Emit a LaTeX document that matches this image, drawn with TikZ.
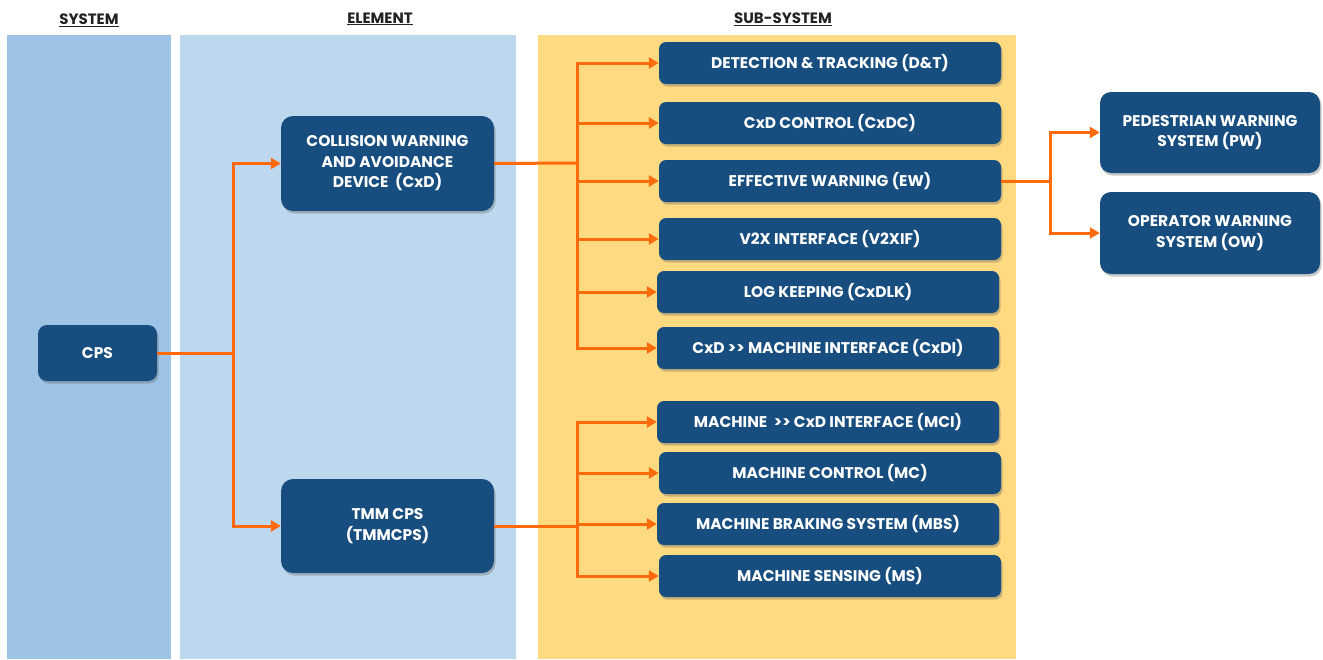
\documentclass[tikz,border=0pt]{standalone}
\usepackage{fontspec}
\setmainfont{Poppins}
\usetikzlibrary{arrows.meta,shadows,positioning}
\definecolor{colsys}{HTML}{9DC3E6}
\definecolor{colelem}{HTML}{BDD7EE}
\definecolor{colsub}{HTML}{FFDA80}
\definecolor{boxblue}{HTML}{174E7F}
\definecolor{arrorange}{HTML}{FF6A0D}
\definecolor{headtxt}{HTML}{222222}
\tikzset{
  box/.style={fill=boxblue, rounded corners=9pt, text=white, font=\fontsize{15.5}{20.5}\selectfont\bfseries, align=center, inner sep=0pt,
    drop shadow={shadow xshift=1.5pt, shadow yshift=-2.5pt, opacity=0.35, fill=black!60}},
  sub/.style={box, minimum width=342pt, minimum height=42pt, rounded corners=7pt},
  conn/.style={draw=arrorange, line width=3pt},
  arr/.style={conn, -{Triangle[length=10pt,width=11pt]}},
  head/.style={font=\fontsize{15}{17}\selectfont\bfseries, text=headtxt}
}
\newcommand{\myul}[1]{\underline{#1}}
\newcommand{\dblgt}{>{}>}
\begin{document}
\begin{tikzpicture}[x=1pt,y=-1pt]
\useasboundingbox (0,0) rectangle (1323,659);
\fill[white] (0,0) rectangle (1323,659);
% column backgrounds
\fill[colsys] (7,35) rectangle (171,659);
\fill[colelem] (180,35) rectangle (516,659);
\fill[colsub] (538,35) rectangle (1016,659);
% headings
\node[head] (hsys) at (89,20) {\myul{SYSTEM}};
\node[head] (helem) at (380,19) {\myul{ELEMENT}};
\node[head] (hsub) at (783,19) {\myul{SUB-SYSTEM}};
% nodes
\node[box, minimum width=119pt, minimum height=56pt] (cps) at (97.5,353) {CPS};
\node[box, minimum width=213pt, minimum height=95pt, rounded corners=12pt] (cxd) at (387.5,163.5) {COLLISION WARNING\\AND AVOIDANCE\\DEVICE~ (CxD)};
\node[box, minimum width=213pt, minimum height=94pt, rounded corners=12pt] (tmm) at (387.5,526) {TMM CPS\\(TMMCPS)};
\node[sub] (dt) at (830,63) {DETECTION \& TRACKING (D\&T)};
\node[sub] (cxdc) at (830,123) {CxD CONTROL (CxDC)};
\node[sub] (ew) at (830,181) {EFFECTIVE WARNING (EW)};
\node[sub] (v2x) at (830,239) {V2X INTERFACE (V2XIF)};
\node[sub] (log) at (828,292) {LOG KEEPING (CxDLK)};
\node[sub] (cxdi) at (828,348) {CxD \dblgt{} MACHINE INTERFACE (CxDI)};
\node[sub] (mci) at (828,422) {MACHINE~ \dblgt{} CxD INTERFACE (MCI)};
\node[sub] (mc) at (830,473) {MACHINE CONTROL (MC)};
\node[sub] (mbs) at (828,524) {MACHINE BRAKING SYSTEM (MBS)};
\node[sub] (ms) at (830,576) {MACHINE SENSING (MS)};
\node[box, minimum width=220pt, minimum height=81pt, rounded corners=11pt] (pw) at (1210,132.5) {PEDESTRIAN WARNING\\SYSTEM (PW)};
\node[box, minimum width=220pt, minimum height=82pt, rounded corners=11pt] (ow) at (1210,233) {OPERATOR WARNING\\SYSTEM (OW)};
% junction coordinates
\coordinate (j1) at (233,353);
\coordinate (j2) at (577,163);
\coordinate (j3) at (577,526);
\coordinate (j4) at (1050,181);
% connectors
\draw[conn] (cps.east) -- (j1);
\draw[arr] (j1) |- (cxd.west);
\draw[arr] (j1) |- (tmm.west);
\draw[conn] (cxd.east) -- (j2);
\foreach \n in {dt,cxdc,ew,v2x,log,cxdi} {\draw[arr] (j2) |- (\n.west);}
\draw[conn] (tmm.east) -- (j3);
\foreach \n in {mci,mc,mbs,ms} {\draw[arr] (j3) |- (\n.west);}
\draw[conn] (ew.east) -- (j4);
\draw[arr] (j4) |- (pw.west);
\draw[arr] (j4) |- (ow.west);
\end{tikzpicture}
\end{document}
